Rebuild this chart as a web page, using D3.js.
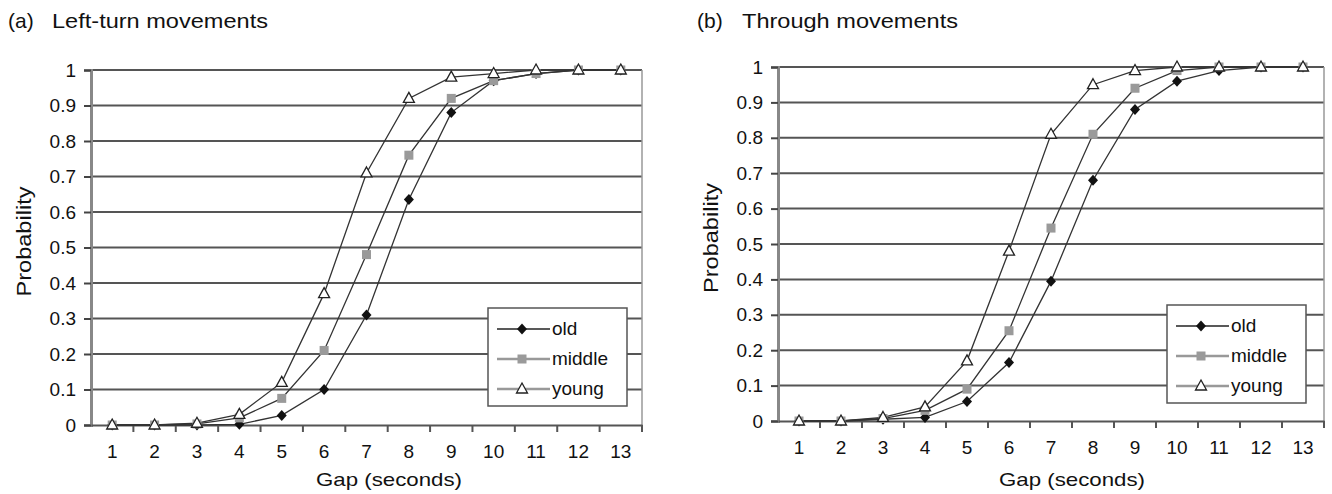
<!DOCTYPE html>
<html lang="en">
<head>
<meta charset="UTF-8">
<script src="https://cdn.jsdelivr.net/npm/d3@7/dist/d3.min.js"></script>
<title>Gap acceptance</title>
<style>
    body { margin: 0; background: white; }
    svg { font-family: Arial, "Liberation Sans", sans-serif; }
</style>
</head>
<body>
<script>
    // ---------------- data ----------------
    const gaps = [1, 2, 3, 4, 5, 6, 7, 8, 9, 10, 11, 12, 13];
    const yTicks = [0, 0.1, 0.2, 0.3, 0.4, 0.5, 0.6, 0.7, 0.8, 0.9, 1];
    const groups = ["old", "middle", "young"];

    // (a) left-turn
    const leftOld    = [0, 0, 0, 0.002, 0.027, 0.10, 0.31, 0.635, 0.88, 0.97, 0.99, 1, 1];
    const leftMiddle = [0, 0, 0.003, 0.02, 0.075, 0.21, 0.48, 0.76, 0.92, 0.97, 0.99, 1, 1];
    const leftYoung  = [0, 0, 0.005, 0.03, 0.12, 0.37, 0.71, 0.92, 0.98, 0.99, 1, 1, 1];

    // (b) through
    const thruOld    = [0, 0, 0.005, 0.01, 0.055, 0.165, 0.395, 0.68, 0.88, 0.96, 0.99, 1, 1];
    const thruMiddle = [0, 0, 0.007, 0.03, 0.09, 0.255, 0.545, 0.81, 0.94, 0.99, 1, 1, 1];
    const thruYoung  = [0, 0, 0.01, 0.04, 0.17, 0.48, 0.81, 0.95, 0.99, 1, 1, 1, 1];

    const panels = [
        {tag: "(a)", title: "Left-turn movements", tagX: 8, titleX: 52, x0: 91, x1: 642, top: 70, bottom: 425,
         yLabelX: 31, gapX: 389, legend: {x: 488, y: 308}, series: [leftOld, leftMiddle, leftYoung]},
        {tag: "(b)", title: "Through movements", tagX: 697, titleX: 742, x0: 778, x1: 1324, top: 67, bottom: 421,
         yLabelX: 718, gapX: 1072, legend: {x: 1167, y: 305}, series: [thruOld, thruMiddle, thruYoung]}
    ];

    const svg = d3.select("body").append("svg")
        .attr("width", 1332)
        .attr("height", 494);

    const legendLine = {old: "#222", middle: "#999", young: "#999"};

    function drawMarker(g, type, cx, cy) {
        if (type === "old") {
            g.append("path")
                .attr("d", `M${cx},${cy - 5.5}L${cx + 5},${cy}L${cx},${cy + 5.5}L${cx - 5},${cy}Z`)
                .attr("fill", "#111");
        } else if (type === "middle") {
            g.append("rect")
                .attr("x", cx - 4.5).attr("y", cy - 4.5)
                .attr("width", 9).attr("height", 9)
                .attr("fill", "#9a9a9a");
        } else {
            g.append("path")
                .attr("d", `M${cx},${cy - 6}L${cx + 5.5},${cy + 4}L${cx - 5.5},${cy + 4}Z`)
                .attr("fill", "white")
                .attr("stroke", "#222")
                .attr("stroke-width", 1.3);
        }
    }

    panels.forEach(p => {
        const g = svg.append("g");

        const x = d3.scaleBand().domain(gaps).range([p.x0, p.x1]);
        const y = d3.scaleLinear().domain([0, 1]).range([p.bottom, p.top]);

        // title
        g.append("text")
            .attr("x", p.tagX).attr("y", 28)
            .attr("font-size", 21).attr("fill", "#111")
            .text(p.tag);
        g.append("text")
            .attr("x", p.titleX).attr("y", 28)
            .attr("font-size", 21).attr("fill", "#111")
            .attr("textLength", 216).attr("lengthAdjust", "spacingAndGlyphs")
            .text(p.title);

        // horizontal gridlines
        g.selectAll(".grid")
            .data(yTicks.slice(1))
            .enter().append("line")
            .attr("x1", p.x0).attr("x2", p.x1)
            .attr("y1", d => y(d)).attr("y2", d => y(d))
            .attr("stroke", "#555")
            .attr("stroke-width", 2);

        // right border
        g.append("line")
            .attr("x1", p.x1).attr("x2", p.x1)
            .attr("y1", p.top).attr("y2", p.bottom + 7)
            .attr("stroke", "#999").attr("stroke-width", 1.5);

        // y axis
        const yAxis = g.append("g")
            .attr("transform", `translate(${p.x0},0)`)
            .call(d3.axisLeft(y).tickValues(yTicks).tickSize(7).tickFormat(d3.format("")));
        yAxis.select(".domain").attr("stroke", "#888").attr("stroke-width", 3);
        yAxis.selectAll(".tick line").attr("stroke", "#444").attr("stroke-width", 2);
        yAxis.selectAll("text").attr("font-size", 19).attr("fill", "#111").attr("x", -15);

        // x axis
        const xAxis = g.append("g")
            .attr("transform", `translate(0,${p.bottom})`)
            .call(d3.axisBottom(x).tickSize(0).tickPadding(20));
        xAxis.select(".domain").attr("stroke", "#555").attr("stroke-width", 2);
        xAxis.selectAll("text").attr("font-size", 19).attr("fill", "#111");
        // tick marks between categories
        g.selectAll(".xtick")
            .data(gaps)
            .enter().append("line")
            .attr("x1", d => x(d) + x.bandwidth()).attr("x2", d => x(d) + x.bandwidth())
            .attr("y1", p.bottom).attr("y2", p.bottom + 7)
            .attr("stroke", "#555").attr("stroke-width", 2);

        // axis titles
        g.append("text")
            .attr("x", p.gapX).attr("y", 486)
            .attr("text-anchor", "middle")
            .attr("font-size", 19).attr("fill", "#111")
            .attr("textLength", 146).attr("lengthAdjust", "spacingAndGlyphs")
            .text("Gap (seconds)");
        g.append("text")
            .attr("transform", `translate(${p.yLabelX},${(p.top + p.bottom) / 2 - 6}) rotate(-90)`)
            .attr("text-anchor", "middle")
            .attr("font-size", 20).attr("fill", "#111")
            .attr("textLength", 110).attr("lengthAdjust", "spacingAndGlyphs")
            .text("Probability");

        // series lines
        const line = d3.line()
            .x((d, i) => x(gaps[i]) + x.bandwidth() / 2)
            .y(d => y(d));

        p.series.forEach(s => {
            g.append("path")
                .attr("d", line(s))
                .attr("fill", "none")
                .attr("stroke", "#333")
                .attr("stroke-width", 1.3);
        });

        // markers
        p.series.forEach((s, k) => {
            s.forEach((v, i) => drawMarker(g, groups[k], x(gaps[i]) + x.bandwidth() / 2, y(v)));
        });

        // legend
        const lg = g.append("g").attr("transform", `translate(${p.legend.x},${p.legend.y})`);
        lg.append("rect")
            .attr("width", 139).attr("height", 98)
            .attr("fill", "white")
            .attr("stroke", "#555").attr("stroke-width", 1.5);
        groups.forEach((name, k) => {
            const ry = 21 + k * 30;
            lg.append("line")
                .attr("x1", 9).attr("x2", 62)
                .attr("y1", ry).attr("y2", ry)
                .attr("stroke", legendLine[name]).attr("stroke-width", name === "old" ? 1.5 : 2.5);
            drawMarker(lg, name, 34, ry);
            lg.append("text")
                .attr("x", 64).attr("y", ry + 6)
                .attr("font-size", 19).attr("fill", "#111")
                .text(name);
        });
    });
</script>
</body>
</html>
